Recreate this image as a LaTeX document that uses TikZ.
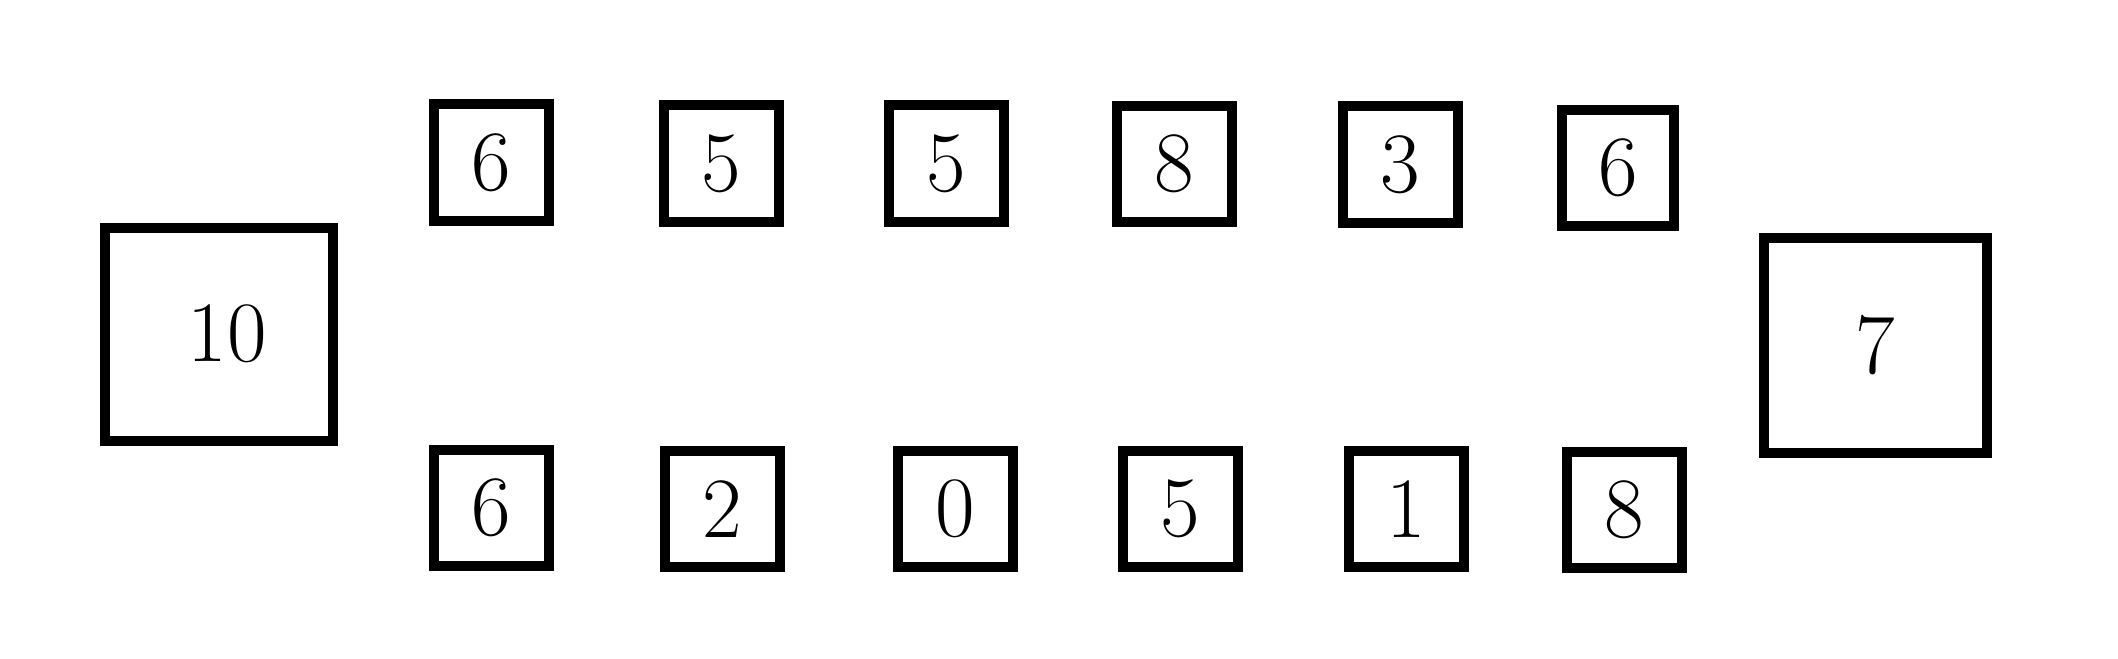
\documentclass[tikz,border=0pt]{standalone}
\begin{document}
\begin{tikzpicture}[x=0.5pt,y=-0.5pt,
  cell/.style={draw=black,line width=5pt,minimum width=57.5pt,minimum height=58pt,inner sep=0pt,font=\fontsize{43}{43}\selectfont},
  bigcell/.style={draw=black,line width=5pt,minimum width=114pt,minimum height=106.5pt,inner sep=0pt,font=\fontsize{43}{43}\selectfont}]
\useasboundingbox (0,0) rectangle (2118,658);
% big boxes
\node[bigcell] (L) at (219,334) {\hspace*{8pt}10};
\node[bigcell,minimum width=111.5pt,minimum height=107.5pt] (R) at (1875,345) {\raisebox{-10pt}{7}};
% top row
\node[cell] (t1) at (491,162.5) {6};
\node[cell] (t2) at (721,163.5) {5};
\node[cell] (t3) at (946,163.5) {5};
\node[cell] (t4) at (1174,164) {8};
\node[cell] (t5) at (1400,164.5) {3};
\node[cell,minimum width=56pt] (t6) at (1618,168) {6};
% bottom row
\node[cell] (b1) at (491,508) {6};
\node[cell] (b2) at (722,509) {2};
\node[cell] (b3) at (955,509) {0};
\node[cell] (b4) at (1180,509) {5};
\node[cell] (b5) at (1406,509) {1};
\node[cell] (b6) at (1624,510) {8};
\end{tikzpicture}
\end{document}
